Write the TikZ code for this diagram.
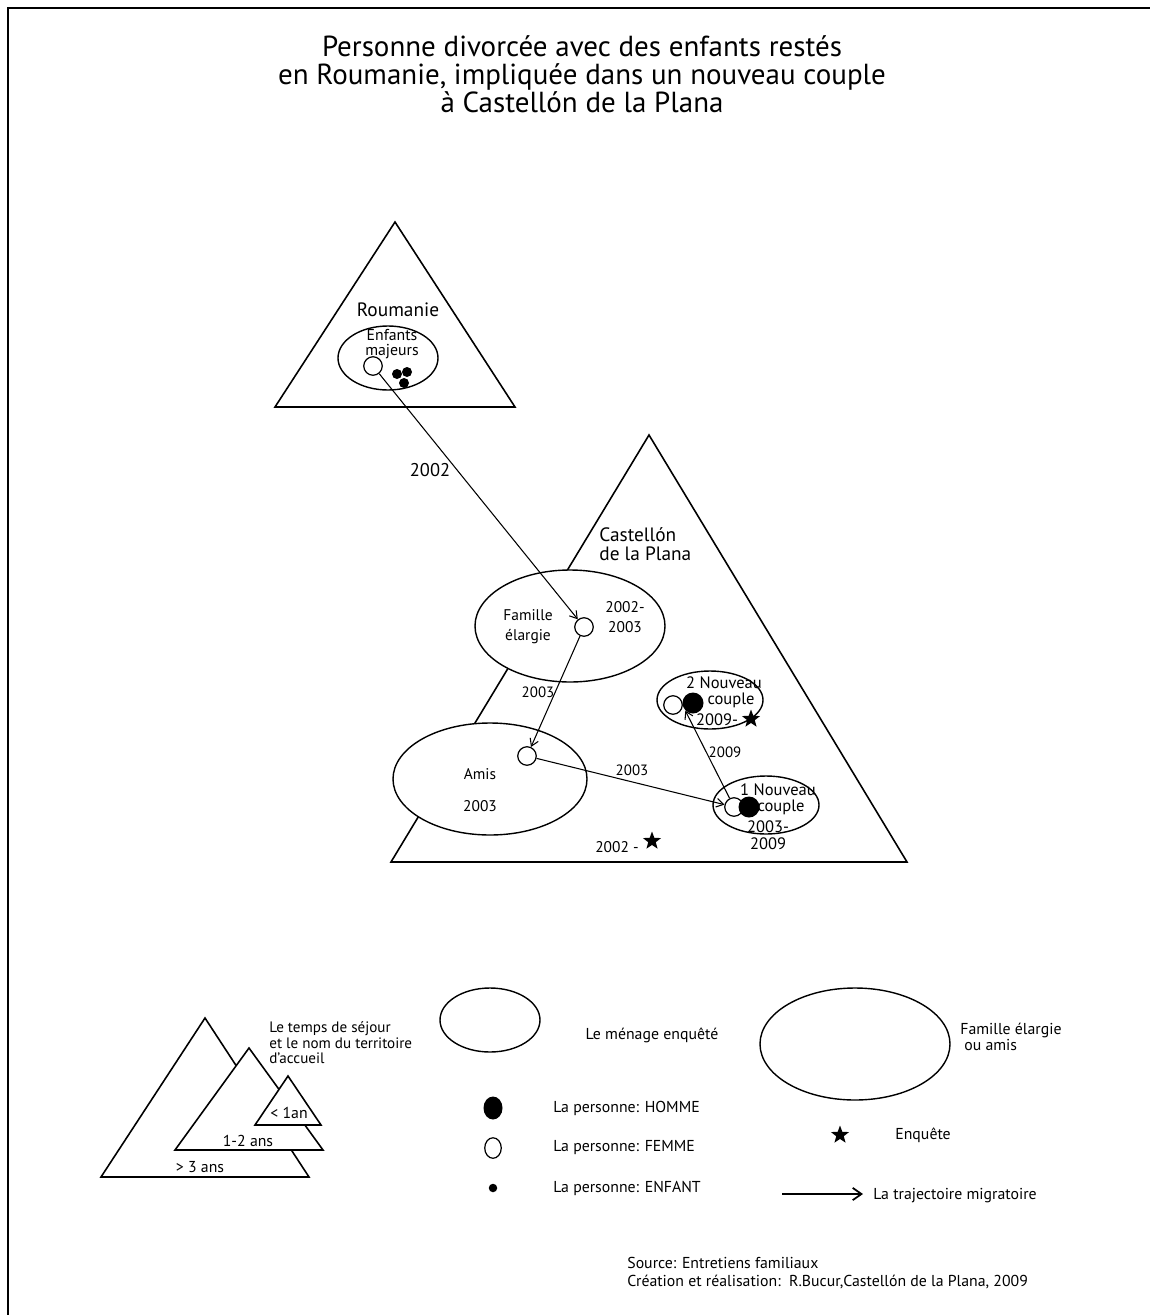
\documentclass[tikz,border=0pt]{standalone}
\usepackage{fontspec}
\setmainfont{PT Sans}
\usetikzlibrary{arrows.meta, shapes.geometric}

\tikzset{
  terr/.style={line width=0.9pt, line join=miter},
  menage/.style={line width=0.8pt, fill=white},
  femme/.style={circle, draw, fill=white, line width=0.7pt, inner sep=0pt, minimum size=0.37cm},
  homme/.style={circle, fill=black, inner sep=0pt, minimum size=0.42cm},
  enfant/.style={circle, fill=black, inner sep=0pt, minimum size=0.2cm},
  enquete/.style={star, star points=5, star point ratio=2.4, fill=black, inner sep=0pt, minimum size=0.38cm},
  trajet/.style={-{Straight Barb[length=4pt,width=5pt]}, line width=0.6pt},
  titre/.style={font=\fontsize{16.5}{15.9}\selectfont, align=center, inner sep=0pt},
  grand/.style={font=\fontsize{11}{10.8}\selectfont, inner sep=0pt},
  moyen/.style={font=\fontsize{9.4}{9.6}\selectfont, inner sep=0pt, align=center},
  petit/.style={font=\fontsize{8.8}{11.3}\selectfont, inner sep=0pt, align=center},
  annee/.style={font=\fontsize{8.5}{9}\selectfont, inner sep=0pt},
  leg/.style={font=\fontsize{9}{8.8}\selectfont, inner sep=0pt, align=left}
}

\begin{document}
\begin{tikzpicture}[x=0.02cm, y=-0.02cm]
\useasboundingbox (0,0) rectangle (1150,1315);
% cadre
\draw[line width=1.7pt] (8,1315) -- (8,8) -- (1150,8);

\node[titre] (titre) at (582,74) {Personne divorcée avec des enfants restés\\en Roumanie, impliquée dans un nouveau couple\\à Castellón de la Plana};

% territoires
\draw[terr] (395,222) -- (515,407) -- (275,407) -- cycle;
\draw[terr] (649,435) -- (907,862) -- (391,862) -- cycle;

% menages
\draw[menage] (388,358) ellipse [x radius=50, y radius=32];
\draw[menage] (570,626) ellipse [x radius=95, y radius=56];
\draw[menage] (490,779) ellipse [x radius=97, y radius=56];
\draw[menage] (710,700) ellipse [x radius=53, y radius=29];
\draw[menage] (766,805) ellipse [x radius=53, y radius=29];

% textes
\node[grand] (roumanie) at (398,310) {Roumanie};
\node[petit, font=\fontsize{9}{8.6}\selectfont] (majeurs) at (392,344) {Enfants\\majeurs};
\node[grand, align=left, anchor=west] (castellon) at (599,544) {Castellón\\de la Plana};
\node[petit] (famille) at (528,627) {Famille\\élargie};
\node[petit] (fdates) at (625,617) {2002-\\2003};
\node[petit] (amis) at (480,774) {Amis};
\node[petit] (adates) at (480,806) {2003};
\node[petit] (debut) at (617,847) {2002 -};
\node[enquete] (etoile1) at (652,841) {};
\node[moyen] (nouv2) at (724,683) {2 Nouveau};
\node[moyen] (coup2) at (731,700) {couple};
\node[moyen] (date2) at (717,720) {2009-};
\node[enquete] (etoile2) at (751,719) {};
\node[moyen] (nouv1) at (778,790) {1 Nouveau};
\node[moyen] (coup1) at (781,807) {couple};
\node[moyen] (date1) at (768,835) {2003-\\2009};

% personnes
\node[femme] (rfem) at (373,366) {};
\node[enfant] (enf1) at (397,374) {};
\node[enfant] (enf2) at (407,372) {};
\node[enfant] (enf3) at (404,383) {};
\node[femme] (ffem) at (584,627) {};
\node[femme] (afem) at (527,756) {};
\node[femme] (c1fem) at (734,807) {};
\node[homme] (c1hom) at (749,807) {};
\node[femme] (c2fem) at (673,705) {};
\node[homme] (c2hom) at (693,703) {};

% trajectoires
\draw[trajet] (rfem) -- (ffem);
\draw[trajet] (ffem) -- (afem);
\draw[trajet] (afem) -- (c1fem);
\draw[trajet] (c1fem) -- (c2hom.south west);
\node[annee, font=\fontsize{10.5}{11}\selectfont] (an2002) at (430,470) {2002};
\node[annee] (an2003a) at (538,692) {2003};
\node[annee] (an2003b) at (632,770) {2003};
\node[annee] (an2009) at (725,752) {2009};

% legende
\draw[terr] (205,1018) -- (309,1177) -- (101,1177) -- cycle;
\draw[terr, fill=white] (249,1048) -- (323,1150) -- (175,1150) -- cycle;
\draw[terr, fill=white] (288,1076) -- (321,1125) -- (255,1125) -- cycle;
\node[leg] (moins1) at (289,1113) {< 1an};
\node[leg] (un2) at (248,1141) {1-2 ans};
\node[leg] (plus3) at (200,1167) {> 3 ans};
\node[leg, anchor=west, font=\fontsize{8.6}{8.8}\selectfont] (tempslbl) at (269,1043) {Le temps de séjour\\et le nom du territoire\\d'accueil};

\draw[menage] (490,1020) ellipse [x radius=50, y radius=32];
\node[leg] (menagelbl) at (652,1035) {Le ménage enquêté};
\draw[menage] (855,1044) ellipse [x radius=95, y radius=56];
\node[leg, anchor=west] (famlbl) at (960,1037) {Famille élargie\\\hspace{0.25em}ou amis};

\node[ellipse, fill=black, inner sep=0pt, minimum width=0.38cm, minimum height=0.46cm] (lhom) at (493,1108) {};
\node[ellipse, draw, line width=0.7pt, inner sep=0pt, minimum width=0.33cm, minimum height=0.41cm] (lfem) at (493,1148) {};
\node[enfant, minimum size=0.17cm] (lenf) at (493,1188) {};
\node[leg, anchor=west] (homlbl) at (553,1108) {La personne: HOMME};
\node[leg, anchor=west] (femlbl) at (553,1148) {La personne: FEMME};
\node[leg, anchor=west] (enflbl) at (553,1188) {La personne: ENFANT};

\node[enquete] (letoile) at (840,1135) {};
\node[leg, anchor=west] (enqlbl) at (895,1135) {Enquête};
\coordinate (fleA) at (782,1194);
\coordinate (fleB) at (863,1194);
\draw[-{Straight Barb[length=5pt,width=7pt]}, line width=1pt] (fleA) -- (fleB);
\node[leg, anchor=west] (trajlbl) at (873,1196) {La trajectoire migratoire};

% source
\node[leg, anchor=west] (source) at (627,1263) {Source: Entretiens familiaux};
\node[leg, anchor=west] (creation) at (627,1282) {Création et réalisation:\ \ R.Bucur,Castellón de la Plana, 2009};
\end{tikzpicture}
\end{document}
